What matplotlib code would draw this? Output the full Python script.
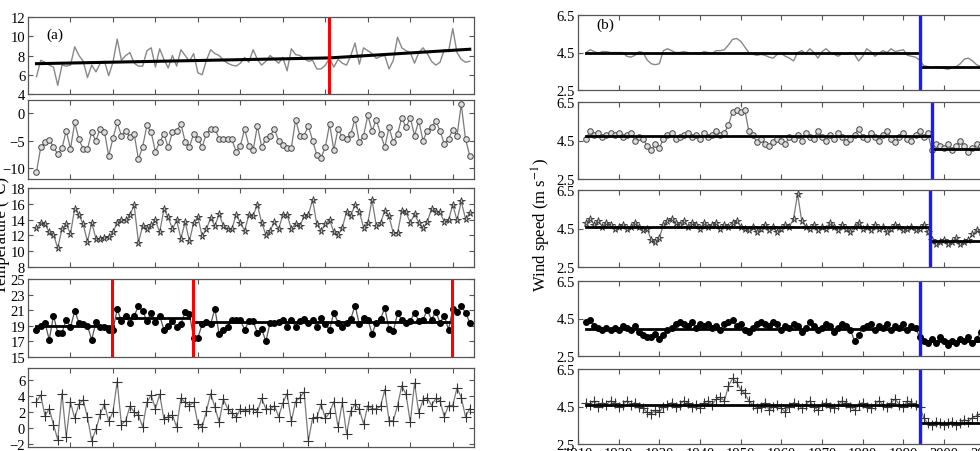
import matplotlib
matplotlib.use("Agg")
import matplotlib.pyplot as plt
import numpy as np

plt.rcParams['font.family'] = ['Liberation Serif', 'DejaVu Serif']
plt.rcParams['mathtext.fontset'] = 'stix'

years = np.arange(1912, 2015)

# ---- panel (a): temperature series ----
temp_mean = [5.8, 7.5, 7.3, 7.0, 6.8, 4.9, 7.0, 6.9, 7.0, 8.9,
             8.0, 7.4, 5.7, 7.0, 6.3, 7.2, 7.4, 5.9, 7.3, 9.7,
             7.5, 8.0, 8.3, 7.2, 6.9, 6.9, 8.5, 8.8, 6.8, 8.7,
             7.6, 6.7, 8.0, 6.9, 8.6, 8.0, 7.4, 8.2, 6.2, 6.0,
             7.5, 8.6, 8.2, 8.0, 7.5, 7.2, 7.0, 6.9, 7.2, 7.8,
             7.3, 8.6, 7.6, 7.0, 7.4, 8.0, 7.6, 7.2, 7.8, 6.4,
             8.7, 8.1, 8.0, 7.7, 7.4, 7.5, 6.6, 6.6, 7.0, 7.7,
             6.8, 7.6, 7.2, 7.0, 8.0, 9.3, 7.1, 8.8, 8.5, 8.2,
             7.7, 7.9, 8.0, 6.6, 7.5, 9.9, 8.8, 8.5, 8.3, 7.2,
             8.3, 8.8, 8.2, 7.4, 7.0, 7.3, 8.6, 8.4, 10.8, 8.3,
             7.6, 7.3, 7.4]
temp_trend_x = [1912, 1981, 2014]
temp_trend_y = [7.15, 7.75, 8.65]
temp_break = [1980.8]

temp_min = [-10.7, -6.2, -5.3, -4.9, -6.1, -7.5, -6.4, -3.2, -6.5, -1.7,
            -4.8, -6.5, -6.5, -3.5, -5.0, -2.8, -3.4, -7.8, -4.6, -1.7,
            -4.1, -3.2, -4.4, -3.8, -8.4, -6.1, -2.2, -3.5, -7.0, -5.3,
            -3.8, -6.2, -3.5, -3.2, -2.0, -5.2, -6.1, -3.8, -4.7, -6.1,
            -3.8, -2.8, -2.8, -4.7, -4.7, -4.7, -4.8, -7.0, -5.9, -2.9,
            -5.9, -6.8, -2.3, -6.1, -4.8, -4.1, -2.9, -5.0, -5.8, -6.4,
            -6.3, -1.2, -4.1, -4.1, -2.3, -5.0, -7.6, -8.1, -6.2, -2.0,
            -6.7, -2.8, -4.4, -4.7, -3.8, -1.0, -5.3, -4.1, -0.4, -3.2,
            -1.2, -3.8, -6.2, -2.6, -5.3, -3.8, -0.8, -2.6, -0.8, -4.1,
            -1.4, -5.0, -3.2, -2.6, -1.4, -3.2, -5.6, -4.7, -3.0, -4.1,
            1.6, -4.7, -7.8]

temp_max = [12.9, 13.6, 13.4, 12.4, 12.1, 10.4, 12.8, 13.4, 12.2, 15.4,
            14.6, 13.4, 11.2, 13.6, 11.6, 11.6, 11.7, 11.8, 12.4, 13.6,
            13.9, 13.9, 14.6, 15.8, 11.1, 13.2, 12.8, 13.3, 13.9, 12.4,
            15.3, 14.3, 12.8, 13.9, 11.6, 13.7, 11.3, 13.6, 14.3, 11.9,
            12.8, 14.2, 13.2, 14.7, 13.2, 12.8, 12.8, 14.6, 13.6, 12.6,
            14.6, 14.5, 15.9, 13.6, 12.1, 12.6, 13.7, 12.8, 14.6, 14.6,
            12.8, 13.5, 13.2, 14.4, 14.6, 16.5, 13.4, 12.6, 13.4, 14.0,
            12.4, 12.0, 13.0, 15.0, 14.5, 15.9, 15.0, 13.0, 13.6, 16.5,
            13.2, 13.6, 15.1, 14.4, 12.3, 12.3, 15.1, 14.9, 13.6, 14.7,
            13.6, 12.9, 13.7, 15.4, 15.0, 14.9, 13.7, 13.9, 15.9, 13.9,
            16.3, 14.1, 14.8]

temp_extreme = [18.4, 19.0, 19.4, 17.2, 20.3, 18.1, 18.1, 19.8, 18.8, 20.9,
                19.4, 19.2, 19.0, 17.2, 19.5, 18.9, 18.8, 18.4, 18.5,
                21.1, 19.6, 20.3, 19.3, 20.3, 21.5, 20.9, 19.6, 20.7, 19.5,
                20.3, 18.5, 19.0, 19.6, 18.8, 19.2, 20.8, 20.5,
                17.5, 17.5, 19.2, 19.5, 19.2, 21.2, 17.9, 18.5, 18.9, 19.7,
                19.8, 19.7, 18.5, 19.6, 19.6, 18.1, 18.6, 17.0, 19.4, 19.4,
                19.5, 19.8, 18.8, 19.8, 18.9, 19.6, 19.9, 19.3, 19.8, 18.9,
                20.0, 19.2, 18.5, 20.7, 19.4, 18.9, 19.4, 19.9, 21.6, 19.2,
                20.0, 19.8, 18.0, 19.4, 19.9, 21.3, 18.6, 18.3, 20.6, 19.8,
                19.4, 19.6, 20.7, 19.6, 19.8, 21.0, 19.8, 20.8, 19.4, 20.3,
                18.5, 21.1, 20.8, 21.5, 20.7, 19.4]
extreme_seg_start = [1912, 1931, 1949]
extreme_seg_end = [1930, 1948, 2009]
extreme_seg_mean = [19.0, 19.95, 19.45]
extreme_breaks = [1929.8, 1948.8, 2009.8]

temp_range = [3.3, 4.1, 1.5, 2.4, 0.4, -1.5, 4.3, -1.1, 3.2, 1.2,
              3.0, 3.5, 1.3, -1.6, -0.2, 1.7, 3.0, 0.8, 2.0, 5.8,
              0.4, 0.9, 2.7, 2.0, 1.6, 0.1, 3.2, 4.1, 2.4, 4.2,
              1.1, 1.4, 1.6, 0.1, 3.7, 3.2, 2.8, 3.2, 0.5, 0.1,
              2.1, 4.3, 2.6, 0.7, 3.6, 2.4, 1.9, 1.3, 2.4, 2.1,
              2.3, 2.4, 2.0, 3.7, 2.4, 2.3, 2.8, 1.4, 3.1, 4.3,
              0.8, 3.3, 3.8, 4.5, -1.6, 1.2, 1.3, 3.0, 1.2, 1.9,
              3.3, 0.1, 3.2, -0.8, 2.1, 3.0, 2.3, 0.5, 2.8, 2.4,
              2.4, 2.7, 4.8, 0.9, 0.9, 2.8, 5.3, 4.2, 0.7, 5.6,
              1.9, 3.5, 3.8, 2.8, 3.7, 3.4, 1.4, 2.8, 2.8, 5.0,
              3.8, 1.4, 2.4]

# ---- panel (b): wind speed series ----
wind_1 = [4.5, 4.65, 4.55, 4.45, 4.55, 4.55, 4.5, 4.5, 4.5, 4.5,
          4.3, 4.25, 4.35, 4.55, 4.5, 4.1, 3.9, 3.85, 3.9, 4.6,
          4.7, 4.6, 4.5, 4.5, 4.55, 4.5, 4.45, 4.5, 4.45, 4.55,
          4.5, 4.45, 4.6, 4.6, 4.65, 4.9, 5.2, 5.25, 5.1, 4.8,
          4.5, 4.4, 4.35, 4.4, 4.35, 4.25, 4.2, 4.4, 4.45, 4.3,
          4.2, 4.05, 4.5, 4.6, 4.45, 4.7, 4.5, 4.2, 4.55, 4.7,
          4.5, 4.4, 4.3, 4.45, 4.4, 4.5, 4.4, 4.05, 4.3, 4.7,
          4.55, 4.3, 4.45, 4.6, 4.5, 4.7, 4.55, 4.6, 4.65, 4.35,
          4.3, 4.25, 4.1, 3.8, 3.75, 3.7, 3.75, 3.7, 3.65, 3.6,
          3.7, 3.75, 3.9, 4.15, 4.2, 4.05, 3.85, 3.75, 3.7, 3.7,
          3.75, 3.8, 3.8]
wind_2 = [4.6, 5.0, 4.8, 4.9, 4.7, 4.8, 4.9, 4.8, 4.9, 4.7,
          4.8, 4.9, 4.5, 4.7, 4.6, 4.2, 4.0, 4.3, 4.1, 4.6,
          4.8, 4.9, 4.6, 4.7, 4.8, 4.9, 4.7, 4.8, 4.6, 4.9,
          4.7, 4.8, 5.0, 4.8, 4.9, 5.3, 6.0, 6.1, 6.0, 6.1,
          5.0, 4.8, 4.4, 4.6, 4.3, 4.2, 4.4, 4.6, 4.5, 4.3,
          4.7, 4.6, 4.8, 4.5, 4.9, 4.7, 4.6, 5.0, 4.7, 4.5,
          4.8, 4.6, 4.9, 4.7, 4.4, 4.6, 4.8, 5.1, 4.7, 4.6,
          4.9, 4.7, 4.5, 4.8, 5.0, 4.6, 4.4, 4.7, 4.9, 4.6,
          4.5, 4.8, 5.0, 4.7, 4.9, 4.0, 4.3, 4.2, 4.1, 4.3,
          4.0, 4.2, 4.5, 4.2, 3.9, 4.1, 4.3, 4.2, 4.4, 4.1,
          4.2, 4.3, 4.2]
wind_3 = [4.8, 5.0, 4.7, 4.9, 4.6, 4.8, 4.7, 4.5, 4.6, 4.7,
          4.5, 4.6, 4.8, 4.6, 4.4, 4.5, 3.9, 3.8, 4.0, 4.7,
          4.9, 5.0, 4.8, 4.7, 4.9, 4.6, 4.8, 4.7, 4.5, 4.8,
          4.6, 4.7, 4.8, 4.5, 4.7, 4.6, 4.8, 4.9, 4.6, 4.5,
          4.4, 4.6, 4.3, 4.5, 4.7, 4.4, 4.6, 4.3, 4.5, 4.7,
          4.6, 5.0, 6.3, 4.9, 4.6, 4.5, 4.7, 4.4, 4.6, 4.5,
          4.8, 4.6, 4.4, 4.7, 4.5, 4.3, 4.6, 4.8, 4.5, 4.6,
          4.4, 4.7, 4.5, 4.6, 4.3, 4.5, 4.7, 4.6, 4.4, 4.5,
          4.6, 4.4, 4.5, 4.7, 4.3, 3.9, 3.7, 3.8, 3.9, 3.7,
          3.8, 4.0, 3.7, 3.8, 3.9, 4.2, 4.4, 4.3, 4.1, 3.9,
          4.0, 4.1, 3.9]
wind_4 = [4.3, 4.4, 4.1, 4.0, 3.9, 4.0, 3.9, 4.0, 3.9, 4.1,
          4.0, 3.9, 4.1, 3.8, 3.6, 3.5, 3.5, 3.7, 3.4, 3.6,
          3.9, 4.0, 4.2, 4.3, 4.2, 4.1, 4.3, 4.0, 4.2, 4.1,
          4.2, 4.0, 4.1, 3.9, 4.2, 4.3, 4.4, 4.1, 4.2, 3.9,
          3.8, 4.0, 4.2, 4.3, 4.2, 4.1, 4.3, 4.2, 3.9, 4.1,
          4.0, 4.2, 4.1, 3.8, 4.0, 4.3, 4.1, 3.9, 4.0, 4.2,
          4.1, 3.8, 4.0, 4.2, 4.1, 3.9, 3.3, 3.6, 4.0, 4.1,
          4.2, 3.9, 4.1, 4.0, 4.2, 3.9, 4.1, 4.0, 4.2, 3.9,
          4.1, 4.0, 3.5, 3.3, 3.2, 3.4, 3.2, 3.5, 3.3, 3.1,
          3.3, 3.2, 3.4, 3.3, 3.5, 3.2, 3.4, 3.8, 3.6, 3.5,
          3.4, 3.6, 3.5]
wind_5 = [4.7, 4.6, 4.8, 4.5, 4.7, 4.6, 4.8, 4.7, 4.5, 4.6,
          4.8, 4.6, 4.7, 4.5, 4.4, 4.2, 4.1, 4.3, 4.2, 4.5,
          4.6, 4.7, 4.5, 4.6, 4.8, 4.7, 4.5, 4.6, 4.4, 4.7,
          4.8, 4.6, 4.9, 5.0, 4.8, 5.6, 6.0, 5.8, 5.4, 5.2,
          4.8, 4.6, 4.4, 4.5, 4.7, 4.3, 4.5, 4.6, 4.4, 4.2,
          4.5, 4.7, 4.6, 4.4, 4.6, 4.8, 4.5, 4.3, 4.6, 4.7,
          4.5, 4.4, 4.6, 4.8, 4.7, 4.5, 4.3, 4.6, 4.7, 4.5,
          4.4, 4.6, 4.8, 4.6, 4.5, 4.7, 4.9, 4.6, 4.5, 4.8,
          4.7, 4.6, 4.5, 3.9, 3.6, 3.5, 3.7, 3.6, 3.5, 3.6,
          3.7, 3.5, 3.6, 3.8, 3.7, 3.9, 4.0, 4.1, 3.9, 3.8,
          3.7, 3.8, 3.9]
wind_breaks = [1994.0, 1997.0, 1996.5, 1994.0, 1994.0]
wind_mean_before = [4.5, 4.72, 4.6, 3.95, 4.57]
wind_mean_after = [3.75, 4.05, 3.85, 3.28, 3.62]

# ---- layout (pixel boxes: top, bottom) ----
W, H = 980, 452
fig = plt.figure(figsize=(W / 100, H / 100), dpi=100)

left_rows = [(18, 95), (101, 180), (189, 268), (280, 358), (369, 448)]
right_rows = [(16, 91), (103, 180), (191, 268), (282, 357), (370, 445)]
lx0, lx1 = 28, 474
rx0, rx1 = 578, 1005


def make_ax(x0, x1, top, bot):
    ax = fig.add_axes([x0 / W, 1 - bot / H, (x1 - x0) / W, (bot - top) / H])
    for s in ax.spines.values():
        s.set_color('#555555')
        s.set_linewidth(0.9)
    ax.tick_params(direction='in', top=True, right=True, length=3.5,
                   width=0.8, color='#555555', labelsize=10.5, pad=2)
    ax.set_xlim(1910, 2015)
    return ax


gray = '#7a7a7a'
mk = dict(color=gray, lw=0.9)

# panel (a)
ax_a = [make_ax(lx0, lx1, t, b) for t, b in left_rows]
for ax in ax_a:
    ax.set_xticks(np.arange(1920, 2011, 10))
    ax.tick_params(labelbottom=False)

ax = ax_a[0]
ax.plot(years, temp_mean, color='#888888', lw=1.0)
ax.plot(temp_trend_x, temp_trend_y, color='black', lw=2.2)
for b in temp_break:
    ax.axvline(b, color='red', lw=2.2)
ax.set_ylim(4, 12)
ax.set_yticks([4, 6, 8, 10, 12])
ax.text(0.06, 0.78, '(a)', transform=ax.transAxes, fontsize=11, ha='center', va='center')

ax = ax_a[1]
ax.plot(years, temp_min, marker='o', ms=4, mfc='#dddddd', mec='#444444', mew=0.7, **mk)
ax.set_ylim(-12, 2.4)
ax.set_yticks([-10, -5, 0])

ax = ax_a[2]
ax.plot(years, temp_max, marker='*', ms=5.5, mfc='#bbbbbb', mec='#333333', mew=0.6, **mk)
ax.set_ylim(8, 18)
ax.set_yticks([8, 10, 12, 14, 16, 18])

ax = ax_a[3]
ax.plot(years, temp_extreme, marker='o', ms=4, mfc='black', mec='black', color='#555555', lw=0.9)
for s0, s1, m in zip(extreme_seg_start, extreme_seg_end, extreme_seg_mean):
    ax.plot([s0, s1], [m, m], color='black', lw=2.0)
for b in extreme_breaks:
    ax.axvline(b, color='red', lw=2.2)
ax.set_ylim(15, 25)
ax.set_yticks([15, 17, 19, 21, 23, 25])

ax = ax_a[4]
ax.plot(years, temp_range, marker='+', ms=7, mec='#333333', mew=0.8, **mk)
ax.set_ylim(-2.4, 7.5)
ax.set_yticks([-2, 0, 2, 4, 6])

fig.text(2 / W, 1 - 235 / H, 'Temperature (\u00b0C)', rotation=90, ha='center', va='center', fontsize=12)

# panel (b)
wind = [wind_1, wind_2, wind_3, wind_4, wind_5]
styles = [dict(color='#888888', lw=1.0),
          dict(marker='o', ms=4, mfc='#dddddd', mec='#444444', mew=0.7, **mk),
          dict(marker='*', ms=5.5, mfc='#bbbbbb', mec='#333333', mew=0.6, **mk),
          dict(marker='o', ms=4, mfc='black', mec='black', color='#555555', lw=0.9),
          dict(marker='+', ms=7, mec='#333333', mew=0.8, **mk)]
for i, (t, b) in enumerate(right_rows):
    ax = make_ax(rx0, rx1, t, b)
    ax.plot(years, wind[i], **styles[i])
    brk = wind_breaks[i]
    ax.plot([years[0], brk], [wind_mean_before[i]] * 2, color='black', lw=2.0)
    ax.plot([brk, years[-1]], [wind_mean_after[i]] * 2, color='black', lw=2.0)
    ax.axvline(brk, color='#1a1aff', lw=2.4)
    ax.set_ylim(2.5, 6.5)
    ax.set_yticks([2.5, 4.5, 6.5])
    ax.set_xticks(np.arange(1910, 2011, 10))
    if i < 4:
        ax.tick_params(labelbottom=False)
    if i == 0:
        ax.text(0.063, 0.87, '(b)', transform=ax.transAxes, fontsize=11, ha='center', va='center')

fig.text(541 / W, 1 - 225 / H, 'Wind speed (m s$^{-1}$)', rotation=90, ha='center', va='center', fontsize=12)

fig.savefig('out.png', dpi=100)
